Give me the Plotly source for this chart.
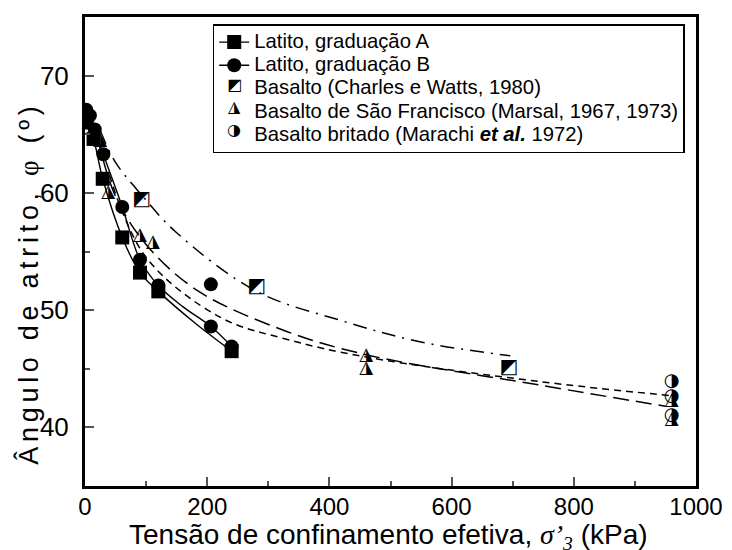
import plotly.graph_objects as go

# ---------------- data ----------------
# Latito, graduação A (filled squares)
latA_x = [3, 14, 29, 61, 90, 120, 240]
latA_y = [66.0, 64.6, 61.2, 56.2, 53.2, 51.6, 46.5]
# Latito, graduação B (filled circles)
latB_x = [2, 8, 16, 30, 61, 90, 120, 206, 206, 240]
latB_y = [67.1, 66.6, 65.4, 63.3, 58.8, 54.3, 52.1, 52.2, 48.6, 46.9]
# Basalto (Charles e Watts, 1980)
cw_x = [93, 281, 694]
cw_y = [59.4, 52.0, 45.1]
# Basalto de São Francisco (Marsal, 1967, 1973)
ms_x = [25, 38, 90, 111, 460, 460, 960, 960]
ms_y = [64.5, 60.0, 56.4, 55.8, 46.1, 45.0, 42.3, 40.7]
# Basalto britado (Marachi et al. 1972)
mr_x = [960, 960, 960]
mr_y = [43.9, 42.6, 41.0]

# fitted curves
fitA_x = [3, 14, 29, 61, 90, 120, 180, 240]
fitA_y = [66.0, 64.6, 61.2, 56.2, 53.2, 51.6, 48.9, 46.5]
fitB_x = [2, 8, 16, 30, 61, 90, 120, 160, 206, 240]
fitB_y = [67.1, 66.6, 65.4, 63.3, 58.8, 54.3, 52.1, 50.3, 48.6, 46.9]
fitCW_x = [25, 50, 93, 150, 281, 420, 548, 696]
fitCW_y = [65.3, 62.6, 59.8, 56.6, 51.6, 49.1, 47.3, 46.1]
fitMS_x = [20, 50, 100, 183, 329, 460, 745, 950]
fitMS_y = [64.8, 59.7, 55.6, 51.7, 48.2, 46.2, 43.6, 41.8]
fitMR_x = [40, 100, 221, 331, 460, 745, 960]
fitMR_y = [61.5, 54.5, 49.4, 47.5, 46.0, 43.9, 42.7]

x_ticks = [0, 200, 400, 600, 800, 1000]
y_ticks = [40, 50, 60, 70]

BLACK = "black"
GLYPH_FONT = "DejaVu Sans"
TXT_FONT = "Liberation Sans, Arial"

fig = go.Figure()

# fitted curves
fig.add_trace(go.Scatter(x=fitA_x, y=fitA_y, mode="lines", line=dict(color=BLACK, width=1.4, shape="spline"),
                         showlegend=False, hoverinfo="skip"))
fig.add_trace(go.Scatter(x=fitB_x, y=fitB_y, mode="lines", line=dict(color=BLACK, width=1.4, shape="spline"),
                         showlegend=False, hoverinfo="skip"))
fig.add_trace(go.Scatter(x=fitCW_x, y=fitCW_y, mode="lines",
                         line=dict(color=BLACK, width=1.5, shape="spline", dash="14px,7px,2px,7px"),
                         showlegend=False, hoverinfo="skip"))
fig.add_trace(go.Scatter(x=fitMS_x, y=fitMS_y, mode="lines",
                         line=dict(color=BLACK, width=1.5, shape="spline", dash="16px,7px"),
                         showlegend=False, hoverinfo="skip"))
fig.add_trace(go.Scatter(x=fitMR_x, y=fitMR_y, mode="lines",
                         line=dict(color=BLACK, width=1.5, shape="spline", dash="7px,5px"),
                         showlegend=False, hoverinfo="skip"))

# data markers
fig.add_trace(go.Scatter(x=latA_x, y=latA_y, mode="markers",
                         marker=dict(symbol="square", size=14, color=BLACK),
                         showlegend=False))
fig.add_trace(go.Scatter(x=latB_x, y=latB_y, mode="markers",
                         marker=dict(symbol="circle", size=14, color=BLACK),
                         showlegend=False))
fig.add_trace(go.Scatter(x=cw_x, y=cw_y, mode="text", text=["◩"] * len(cw_x),
                         textfont=dict(family=GLYPH_FONT, size=20, color=BLACK),
                         textposition="middle center", showlegend=False))
fig.add_trace(go.Scatter(x=ms_x, y=ms_y, mode="text", text=["◮"] * len(ms_x),
                         textfont=dict(family=GLYPH_FONT, size=18, color=BLACK),
                         textposition="middle center", showlegend=False))
fig.add_trace(go.Scatter(x=mr_x, y=mr_y, mode="text", text=["◑"] * len(mr_x),
                         textfont=dict(family=GLYPH_FONT, size=18, color=BLACK),
                         textposition="middle center", showlegend=False))

# legend entries
def lg(name):
    return '<span style="font-size:20.3px">' + name + '</span>'

fig.add_trace(go.Scatter(x=[None], y=[None], mode="lines+markers", name=lg("Latito, graduação A"),
                         line=dict(color=BLACK, width=1.4),
                         marker=dict(symbol="square", size=14, color=BLACK)))
fig.add_trace(go.Scatter(x=[None], y=[None], mode="lines+markers", name=lg("Latito, graduação B"),
                         line=dict(color=BLACK, width=1.4),
                         marker=dict(symbol="circle", size=14, color=BLACK)))
fig.add_trace(go.Scatter(x=[None], y=[None], mode="markers", name=lg("Basalto (Charles e Watts, 1980)"),
                         marker=dict(symbol="square", size=1, color="rgba(0,0,0,0)")))
fig.add_trace(go.Scatter(x=[None], y=[None], mode="markers",
                         name=lg("Basalto de São Francisco (Marsal, 1967, 1973)"),
                         marker=dict(symbol="square", size=1, color="rgba(0,0,0,0)")))
fig.add_trace(go.Scatter(x=[None], y=[None], mode="markers",
                         name=lg("Basalto britado (Marachi <b><i>et al.</i></b> 1972)"),
                         marker=dict(symbol="square", size=1, color="rgba(0,0,0,0)")))

annotations = []
# legend glyphs for the half-filled symbols (placed on legend rows 3-5)
for gy, g in zip([0.856, 0.809, 0.761], ["◩", "◮", "◑"]):
    annotations.append(dict(xref="paper", yref="paper", x=0.2445, y=gy, text=g, showarrow=False,
                            font=dict(family=GLYPH_FONT, size=16, color=BLACK),
                            xanchor="center", yanchor="middle"))
# y-axis title
annotations.append(dict(xref="paper", yref="paper", x=-0.092, y=0.433,
                        text='<span style="letter-spacing:4.7px">Ângulo de atrito, '
                             '<span style="font-family:Liberation Serif">φ</span> (º)</span>',
                        textangle=-90, showarrow=False, xanchor="center", yanchor="middle",
                        font=dict(family=TXT_FONT, size=27, color=BLACK)))
# x-axis title
annotations.append(dict(xref="paper", yref="paper", x=0.4975, y=-0.107,
                        text="Tensão de confinamento efetiva, "
                             '<span style="font-family:Liberation Serif"><i>σ’<sub>3</sub></i></span> (kPa)',
                        showarrow=False, xanchor="center", yanchor="middle",
                        font=dict(family=TXT_FONT, size=28, color=BLACK)))

fig.update_layout(
    width=732, height=550,
    margin=dict(l=85, r=36, t=17, b=64),
    plot_bgcolor="white", paper_bgcolor="white",
    font=dict(family=TXT_FONT, color=BLACK, size=24),
    showlegend=True,
    legend=dict(x=0.209, y=0.985, xanchor="left", yanchor="top",
                bgcolor="white", bordercolor=BLACK, borderwidth=1.5,
                font=dict(size=15.5, family=TXT_FONT),
                tracegroupgap=0, itemclick=False),
    annotations=annotations,
    xaxis=dict(range=[0, 1000], tickvals=x_ticks, ticks="inside", ticklen=9, tickwidth=1.5,
               tickcolor="#555", showline=True, linewidth=3, linecolor=BLACK, mirror=True,
               showgrid=False, zeroline=False, ticklabelstandoff=-3, automargin=False,
               minor=dict(dtick=100, ticks="inside", ticklen=5, tickwidth=1.5, tickcolor="#555"),
               tickfont=dict(size=24)),
    yaxis=dict(range=[35, 75], tickvals=y_ticks, ticks="inside", ticklen=9, tickwidth=1.5,
               tickcolor="#555", showline=True, linewidth=3, linecolor=BLACK, mirror=True,
               showgrid=False, zeroline=False, ticklabelstandoff=8, automargin=False,
               minor=dict(dtick=5, ticks="inside", ticklen=5, tickwidth=1.5, tickcolor="#555"),
               tickfont=dict(size=26)),
)

fig.write_html("out.html")
